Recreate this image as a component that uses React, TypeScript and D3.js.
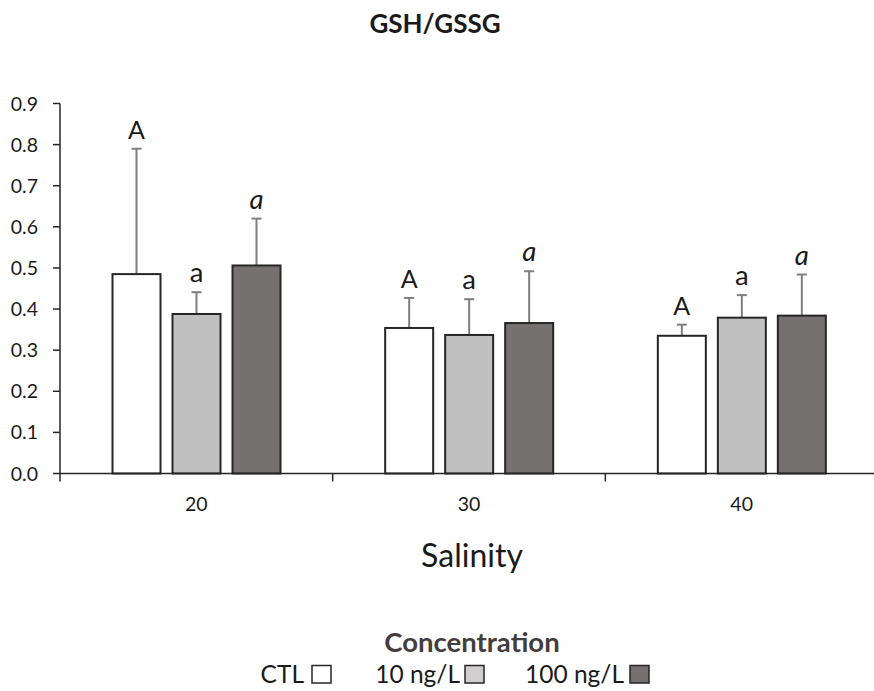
import React from "react";
import * as d3 from "d3";

const categories = ["20", "30", "40"];
const series = ["CTL", "10 ng/L", "100 ng/L"];
const means = [
  [0.485, 0.388, 0.506],
  [0.354, 0.337, 0.366],
  [0.335, 0.379, 0.384],
];
const errTops = [
  [0.79, 0.441, 0.62],
  [0.427, 0.424, 0.492],
  [0.362, 0.434, 0.484],
];
const letters = ["A", "a", "a"];
const letterItalic = [false, false, true];
const yTicks = [0, 0.1, 0.2, 0.3, 0.4, 0.5, 0.6, 0.7, 0.8, 0.9];
const barColors = ["#ffffff", "#c0c0c0", "#767171"];
const legendColors = ["#ffffff", "#d0cece", "#767171"];

const W = 874;
const H = 691;
const FONT = "Lato, 'Open Sans', sans-serif";

export default function App() {
  const x0 = d3.scaleBand<string>().domain(categories).range([60, 878]).padding(0);
  const x1 = d3
    .scaleBand<string>()
    .domain(series)
    .range([52.5, 220.5])
    .paddingInner(0.2)
    .paddingOuter(0);
  const y = d3.scaleLinear().domain([0, 0.9]).range([473.5, 103.5]);
  const bw = x1.bandwidth();

  const legendItems = [
    { label: series[0], textEnd: 304, sq: 312 },
    { label: series[1], textEnd: 460, sq: 465 },
    { label: series[2], textEnd: 624, sq: 630 },
  ];

  return (
    <svg
      width={W}
      height={H}
      style={{ position: "absolute", left: 0, top: 0, background: "#fff" }}
      fontFamily={FONT}
    >
      <text x={435} y={33} textAnchor="middle" fontWeight="bold" fontSize={26} fill="#1a1a1a">
        GSH/GSSG
      </text>

      {/* y axis */}
      <line x1={60} x2={60} y1={y(0.9)} y2={y(0)} stroke="#262626" strokeWidth={1.5} />
      {yTicks.map((t) => (
        <g key={t}>
          <line x1={53} x2={60} y1={y(t)} y2={y(t)} stroke="#262626" strokeWidth={1.5} />
          <text x={38} y={y(t) + 7} textAnchor="end" fontSize={19.5} fill="#1a1a1a">
            {t.toFixed(1)}
          </text>
        </g>
      ))}

      {/* bars */}
      {categories.map((c, ci) => (
        <g key={c} transform={`translate(${x0(c)},0)`}>
          {series.map((s, si) => {
            const bx = x1(s)!;
            const cx = bx + bw / 2;
            const v = means[ci][si];
            const e = errTops[ci][si];
            return (
              <g key={s}>
                <line x1={cx} x2={cx} y1={y(v)} y2={y(e)} stroke="#7f7f7f" strokeWidth={2} />
                <line x1={cx - 5} x2={cx + 5} y1={y(e)} y2={y(e)} stroke="#7f7f7f" strokeWidth={2} />
                <rect
                  x={bx}
                  y={y(v)}
                  width={bw}
                  height={y(0) - y(v)}
                  fill={barColors[si]}
                  stroke="#262626"
                  strokeWidth={2}
                />
                <text
                  x={cx}
                  y={y(e) - 10}
                  textAnchor="middle"
                  fontSize={si === 0 ? 25 : 27.5}
                  fontStyle={letterItalic[si] ? "italic" : "normal"}
                  fill="#1a1a1a"
                >
                  {letters[si]}
                </text>
              </g>
            );
          })}
        </g>
      ))}

      {/* x axis */}
      <line x1={60} x2={W} y1={y(0)} y2={y(0)} stroke="#262626" strokeWidth={1.5} />
      {categories.map((c) => (
        <line
          key={"t" + c}
          x1={x0(c)!}
          x2={x0(c)!}
          y1={y(0)}
          y2={y(0) + 8}
          stroke="#262626"
          strokeWidth={1.5}
        />
      ))}
      {categories.map((c) => (
        <text
          key={"l" + c}
          x={x0(c)! + x0.bandwidth() / 2}
          y={511}
          textAnchor="middle"
          fontSize={19.5}
          fill="#1a1a1a"
        >
          {c}
        </text>
      ))}

      <text x={472} y={567} textAnchor="middle" fontSize={32} fill="#1a1a1a">
        Salinity
      </text>

      {/* legend */}
      <text x={472} y={652} textAnchor="middle" fontSize={27.5} fontWeight="bold" fill="#433d3d">
        Concentration
      </text>
      {legendItems.map((it, i) => (
        <g key={it.label}>
          <text x={it.textEnd} y={683} textAnchor="end" fontSize={24.5} fill="#1a1a1a">
            {it.label}
          </text>
          <rect
            x={it.sq}
            y={665.5}
            width={19}
            height={17.5}
            fill={legendColors[i]}
            stroke="#262626"
            strokeWidth={1.5}
          />
        </g>
      ))}
    </svg>
  );
}
